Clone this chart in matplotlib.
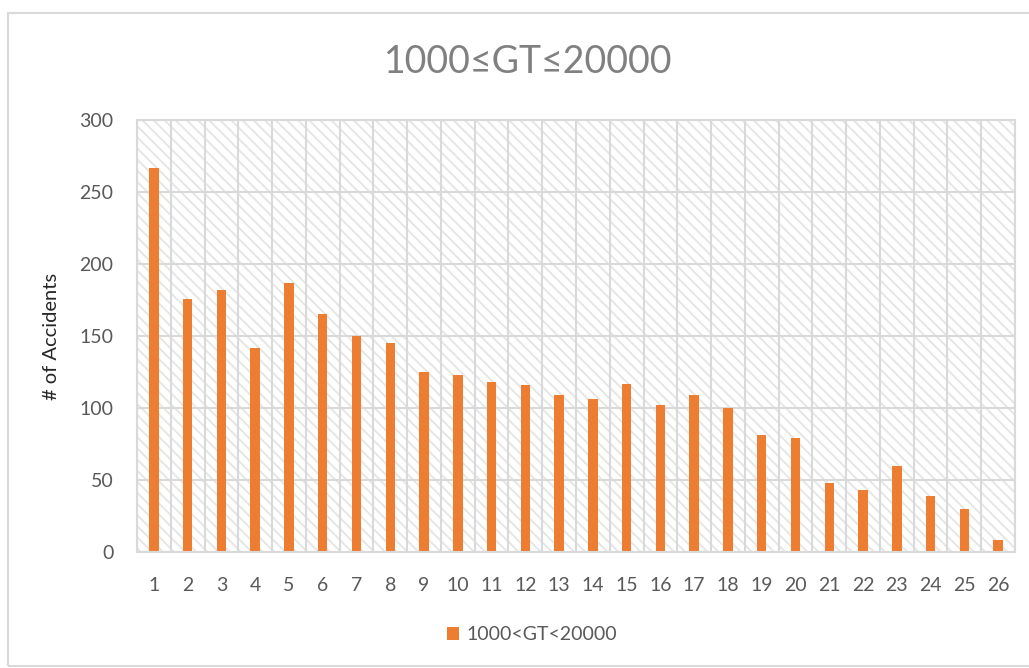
import matplotlib.pyplot as plt
from matplotlib.patches import Rectangle

# accidents per category
categories = list(range(1, 27))
accidents = [267, 176, 182, 142, 187, 165, 150, 145, 125, 123, 118, 116, 109,
             106, 117, 102, 109, 100, 81, 79, 48, 43, 60, 39, 30, 8]
y_ticks = [0, 50, 100, 150, 200, 250, 300]

title = "1000\u2264GT\u226420000"
series_name = "1000<GT<20000"

BAR = "#ED7D31"
GRID = "#D9D9D9"
TEXT = "#595959"

plt.rcParams['font.family'] = ['Lato', 'DejaVu Sans']
plt.rcParams['hatch.linewidth'] = 1.4

fig = plt.figure(figsize=(10.29, 6.68), dpi=100)
W, H = 1029, 668
ax = fig.add_axes([137 / W, 1 - 552 / H, (1015 - 137) / W, (552 - 120) / H])

# striped plot-area fill
ax.add_patch(Rectangle((0, 0), 1, 1, transform=ax.transAxes, facecolor="white",
                       edgecolor="#E6E6E6", hatch="\\\\\\", linewidth=0, zorder=0.1))

ax.bar(categories, accidents, width=0.28, color=BAR, zorder=2, label=series_name)

ax.set_xlim(0.5, 26.5)
ax.set_ylim(0, 300)
ax.set_yticks(y_ticks)
ax.set_xticks(categories)
ax.set_xticks([c + 0.5 for c in range(0, 27)], minor=True)
ax.set_axisbelow(True)
ax.grid(axis="y", which="major", color=GRID, linewidth=1.5)
ax.grid(axis="x", which="minor", color=GRID, linewidth=1.5)
ax.tick_params(which="both", length=0)
ax.tick_params(axis="x", pad=18, labelsize=14, labelcolor=TEXT)
ax.tick_params(axis="y", pad=17, labelsize=14, labelcolor=TEXT)
for s in ax.spines.values():
    s.set_color(GRID)
    s.set_linewidth(1.5)

ax.set_ylabel("# of Accidents", fontsize=14.5, color="#262626", labelpad=14)

fig.text(528 / W, 1 - 62 / H, title, ha="center", va="center",
         fontsize=27, color="#808080")

ax.legend(loc="center", bbox_to_anchor=(532 / W, 1 - 635 / H),
          bbox_transform=fig.transFigure, frameon=False, fontsize=14,
          labelcolor=TEXT, handlelength=0.6, handleheight=0.6, handletextpad=0.4)

# chart border
fig.add_artist(Rectangle((8 / W, 1 - 666 / H), 1.1, (666 - 13) / H,
                         transform=fig.transFigure, fill=False,
                         edgecolor=GRID, linewidth=1.5))

fig.savefig("out.png", dpi=100, facecolor="white")
